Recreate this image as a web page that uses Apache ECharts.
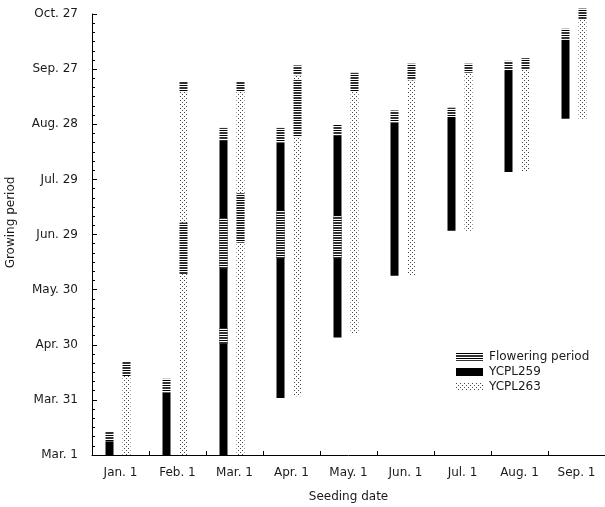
<!DOCTYPE html>
<html>
<head>
<meta charset="utf-8">
<script src="https://cdn.jsdelivr.net/npm/echarts@6/dist/echarts.min.js"></script>
<style>
  html, body { margin: 0; padding: 0; background: #fff; }
  #chart { width: 605px; height: 507px; }
</style>
</head>
<body>
<div id="chart"></div>
<script>
// Datos: dias contados desde Mar. 1
const seedDates = ['Jan. 1', 'Feb. 1', 'Mar. 1', 'Apr. 1', 'May. 1', 'Jun. 1', 'Jul. 1', 'Aug. 1', 'Sep. 1'];
const yTickLabels = ['Mar. 1', 'Mar. 31', 'Apr. 30', 'May. 30', 'Jun. 29', 'Jul. 29', 'Aug. 28', 'Sep. 27', 'Oct. 27'];

// YCPL259 (negro): inicio y fin del periodo de crecimiento
const start259 = [0, 0, 0, 31, 64, 97.5, 122, 154, 183];
const end259 = [7.5, 34, 171, 170, 174, 181, 184, 209, 226];
// YCPL263 (punteado)
const start263 = [0, 0, 0, 32, 66, 98, 122, 154, 183];
const end263 = [43, 197.5, 197.5, 206.7, 198, 204, 208, 209.5, 237];

// Floracion: [indice de fecha, desde, hasta]
const flowering259 = [
    [0, 7.5, 13], [1, 34, 41.5],
    [2, 60.5, 69], [2, 101.5, 129], [2, 171, 178],
    [3, 107, 133], [3, 170, 178],
    [4, 107, 130], [4, 174, 180],
    [5, 181, 187.5], [6, 184, 189], [7, 209, 214.5], [8, 226, 232]
];
const flowering263 = [
    [0, 43, 51],
    [1, 98.5, 126.5], [1, 197.5, 203],
    [2, 115.5, 142.5], [2, 197.5, 203],
    [3, 173, 204], [3, 206.7, 212],
    [4, 198, 208], [5, 204, 213], [6, 208, 213], [7, 209.5, 216], [8, 237, 243]
];

// Patrones de relleno (rayas y puntos)
function makePattern(w, h, draw) {
    const c = document.createElement('canvas');
    c.width = w;
    c.height = h;
    const ctx = c.getContext('2d');
    ctx.fillStyle = '#fff';
    ctx.fillRect(0, 0, w, h);
    draw(ctx);
    return {image: c, repeat: 'repeat'};
}
const stripePattern = makePattern(4, 5, ctx => {
    ctx.fillStyle = '#000';
    ctx.fillRect(0, 0, 4, 1);
    ctx.fillStyle = '#333';
    ctx.fillRect(0, 2, 4, 2);
});
const dotPattern = makePattern(4, 4, ctx => {
    ctx.fillStyle = '#444';
    ctx.fillRect(0, 0, 1, 1);
    ctx.fillRect(2, 2, 1, 1);
});

const BAR_W = 8;
const OFFSETS = [-11, 6];

function barRenderer(fixedVariety) {
    return function (params, api) {
        const cat = api.value(0);
        const variety = fixedVariety != null ? fixedVariety : api.value(3);
        const bottom = api.coord([cat, api.value(1)]);
        const top = api.coord([cat, api.value(2)]);
        return {
            type: 'rect',
            shape: {
                x: bottom[0] + OFFSETS[variety] - BAR_W / 2,
                y: top[1],
                width: BAR_W,
                height: bottom[1] - top[1]
            },
            style: api.style()
        };
    };
}

const body259 = seedDates.map((d, i) => [i, start259[i], end259[i]]);
const body263 = seedDates.map((d, i) => [i, start263[i], end263[i]]);
const floweringAll = flowering259.map(f => [f[0], f[1], f[2], 0])
    .concat(flowering263.map(f => [f[0], f[1], f[2], 1]));

const myChart = echarts.init(document.getElementById('chart'));

const textColor = '#1a1a1a';
const fontFamily = 'DejaVu Sans';

let option = {
    animation: false,
    grid: {left: 92, right: 0, top: 14, bottom: 52, outerBoundsMode: 'none'},
    legend: {
        orient: 'vertical',
        left: 451,
        top: 346,
        itemWidth: 27,
        itemHeight: 8,
        itemGap: 3,
        icon: 'rect',
        data: ['Flowering period', 'YCPL259', 'YCPL263'],
        textStyle: {fontFamily: fontFamily, fontSize: 12, color: textColor, padding: [0, 0, 0, 1]}
    },
    xAxis: {
        type: 'category',
        data: seedDates,
        name: 'Seeding date',
        nameLocation: 'middle',
        nameGap: 36,
        nameTextStyle: {fontFamily: fontFamily, fontSize: 12, color: textColor},
        axisLine: {lineStyle: {color: '#000', width: 1}},
        axisTick: {show: true, inside: true, length: 4, lineStyle: {color: '#000'}},
        axisLabel: {fontFamily: fontFamily, fontSize: 12, color: textColor, margin: 12},
        splitLine: {show: false}
    },
    yAxis: {
        type: 'value',
        min: 0,
        max: 240,
        interval: 30,
        name: 'Growing period',
        nameLocation: 'middle',
        nameGap: 75,
        nameTextStyle: {fontFamily: fontFamily, fontSize: 12, color: textColor, padding: [0, 0, 0, 24]},
        axisLine: {show: true, lineStyle: {color: '#000', width: 1}},
        axisTick: {show: true, inside: true, length: 5, lineStyle: {color: '#000'}},
        minorTick: {show: true, splitNumber: 6, length: 3, lineStyle: {color: '#000'}},
        axisLabel: {
            fontFamily: fontFamily,
            fontSize: 12,
            color: textColor,
            margin: 14,
            formatter: function (value) {
                return yTickLabels[Math.round(value / 30)] || '';
            }
        },
        splitLine: {show: false}
    },
    series: [
        {
            name: 'YCPL259',
            type: 'custom',
            renderItem: barRenderer(0),
            encode: {x: 0, y: [1, 2]},
            itemStyle: {color: '#000'},
            clip: false,
            z: 2,
            data: body259
        },
        {
            name: 'YCPL263',
            type: 'custom',
            renderItem: barRenderer(1),
            encode: {x: 0, y: [1, 2]},
            itemStyle: {color: dotPattern},
            clip: false,
            z: 2,
            data: body263
        },
        {
            name: 'Flowering period',
            type: 'custom',
            renderItem: barRenderer(null),
            encode: {x: 0, y: [1, 2]},
            itemStyle: {color: stripePattern},
            clip: false,
            z: 3,
            data: floweringAll
        }
    ]
};

myChart.setOption(option);
</script>
</body>
</html>
